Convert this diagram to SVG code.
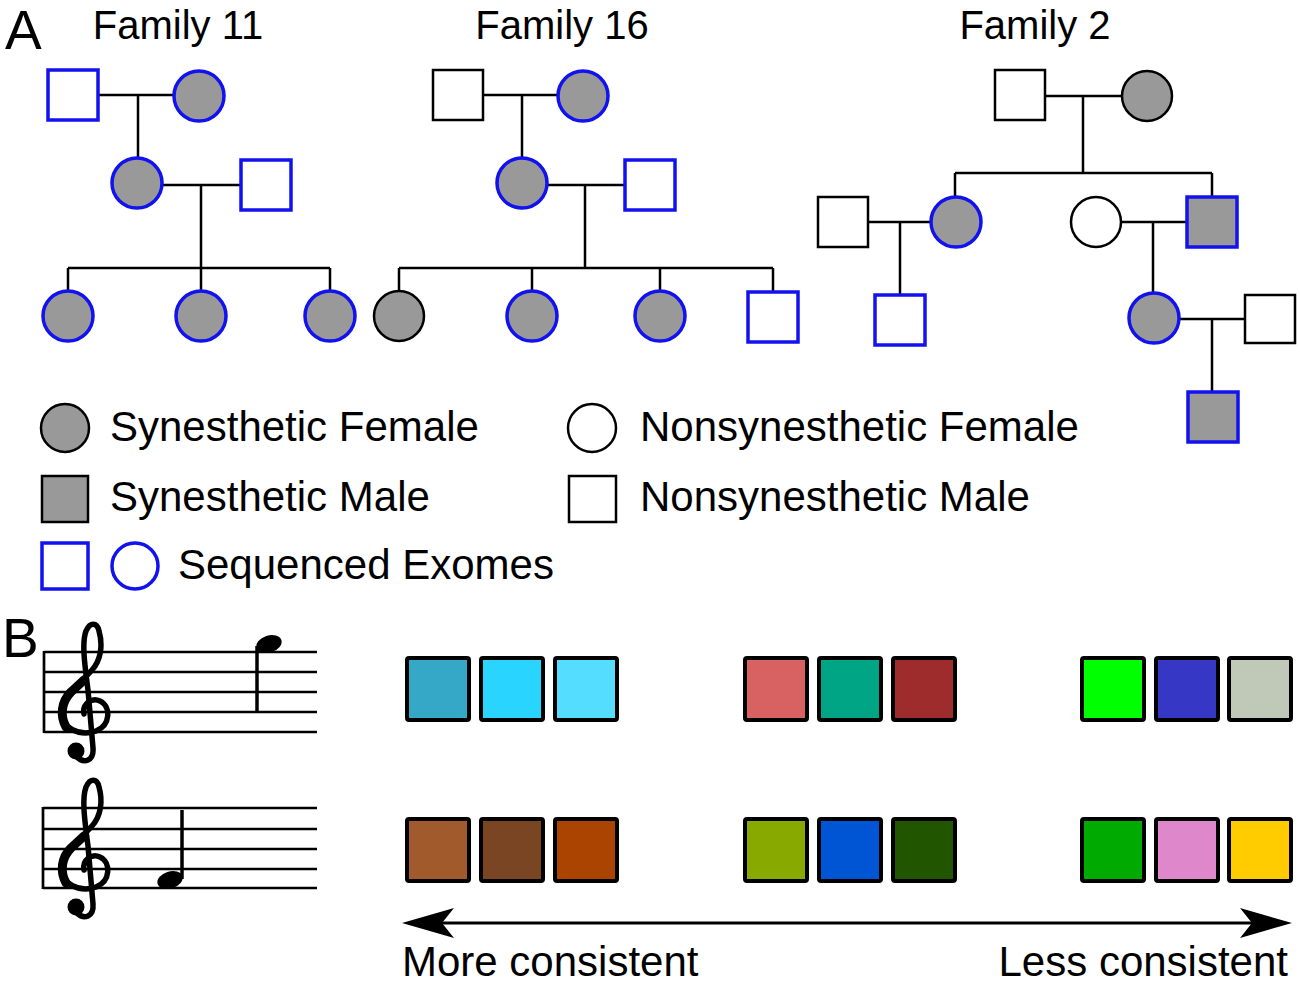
<svg xmlns="http://www.w3.org/2000/svg" width="1300" height="987" viewBox="0 0 1300 987">
<defs>
<style>
text{font-family:"Liberation Sans",Arial,Helvetica,sans-serif;fill:#000}
.t{font-size:40px}
.lg{font-size:42px}
.ax{font-size:42px}
.big{font-size:55px}
.bl{stroke:#1212ee;stroke-width:3.5}
.bk{stroke:#000;stroke-width:2.5}
.aff{fill:#999}
.un{fill:#fff}
.con path{fill:none;stroke:#000;stroke-width:2.5}
.staff path{fill:none;stroke:#000;stroke-width:2.7}
.sw{stroke:#000;stroke-width:4}
.clef{fill:none;stroke:#000;stroke-linecap:round;stroke-linejoin:round}
</style>
<marker id="ah" markerUnits="userSpaceOnUse" markerWidth="52" markerHeight="30" viewBox="0 0 52 30" refX="40" refY="15" orient="auto-start-reverse">
<path d="M0,0 L52,15 L0,30 L12,15 Z" fill="#000"/>
</marker>
<g id="clefShape">
<path class="clef" stroke-width="5.5" d="M84 714 C82 704 92 697 100 701 C111 706 111 725 96 731 C80 737 61 728 61 712 C61 696 80 684 92 670 C101 660 103 645 99 631 C97 622 90 622 86 631 C82 642 84 660 88 690 L93 748 C94 761 84 764 77 757"/>
<path class="clef" stroke-width="9" d="M66 727 C60 716 61 702 71 692 L84 680"/>
<circle cx="76" cy="751" r="8.5" fill="#000"/>
</g>
</defs>
<rect width="1300" height="987" fill="#fff"/>

<text class="big" x="5" y="49">A</text>
<text class="t" x="178" y="39" text-anchor="middle">Family 11</text>
<text class="t" x="562" y="39" text-anchor="middle">Family 16</text>
<text class="t" x="1035" y="39" text-anchor="middle">Family 2</text>

<g id="connectors" class="con">
<path d="M98 95 H174 M138 95 V158 M162 185 H241 M201 185 V268 M68 268 H330 M68 268 V291 M201 268 V291 M330 268 V291"/>
<path d="M483 95 H558 M522 95 V158 M547 185 H625 M585 185 V268 M399 268 H773 M399 268 V291 M532 268 V291 M660 268 V291 M773 268 V292"/>
<path d="M1045 96 H1122 M1083 96 V173 M955 173 H1212 M955 173 V197 M1212 173 V197 M868 222 H931 M900 222 V295 M1121 222 H1187 M1153 222 V293 M1179 319 H1245 M1212 319 V392"/>
</g>

<g id="f11_i1"><rect class="bl un" x="48" y="70" width="50" height="50"/></g>
<g id="f11_i2"><circle class="bl aff" cx="199" cy="96" r="25"/></g>
<g id="f11_ii1"><circle class="bl aff" cx="137" cy="183" r="25"/></g>
<g id="f11_ii2"><rect class="bl un" x="241" y="160" width="50" height="50"/></g>
<g id="f11_iii1"><circle class="bl aff" cx="68" cy="316" r="25"/></g>
<g id="f11_iii2"><circle class="bl aff" cx="201" cy="316" r="25"/></g>
<g id="f11_iii3"><circle class="bl aff" cx="330" cy="316" r="25"/></g>

<g id="f16_i1"><rect class="bk un" x="433" y="70" width="50" height="50"/></g>
<g id="f16_i2"><circle class="bl aff" cx="583" cy="96" r="25"/></g>
<g id="f16_ii1"><circle class="bl aff" cx="522" cy="183" r="25"/></g>
<g id="f16_ii2"><rect class="bl un" x="625" y="160" width="50" height="50"/></g>
<g id="f16_iii1"><circle class="bk aff" cx="399" cy="316" r="25"/></g>
<g id="f16_iii2"><circle class="bl aff" cx="532" cy="316" r="25"/></g>
<g id="f16_iii3"><circle class="bl aff" cx="660" cy="316" r="25"/></g>
<g id="f16_iii4"><rect class="bl un" x="748" y="292" width="50" height="50"/></g>

<g id="f2_i1"><rect class="bk un" x="995" y="70" width="50" height="50"/></g>
<g id="f2_i2"><circle class="bk aff" cx="1147" cy="96" r="25"/></g>
<g id="f2_ii1"><rect class="bk un" x="818" y="197" width="50" height="50"/></g>
<g id="f2_ii2"><circle class="bl aff" cx="956" cy="222" r="25"/></g>
<g id="f2_ii3"><circle class="bk un" cx="1096" cy="222" r="25"/></g>
<g id="f2_ii4"><rect class="bl aff" x="1187" y="197" width="50" height="50"/></g>
<g id="f2_iii1"><rect class="bl un" x="875" y="295" width="50" height="50"/></g>
<g id="f2_iii2"><circle class="bl aff" cx="1154" cy="318" r="25"/></g>
<g id="f2_iii3"><rect class="bk un" x="1245" y="295" width="50" height="48"/></g>
<g id="f2_iv1"><rect class="bl aff" x="1188" y="392" width="50" height="50"/></g>

<g id="legend">
<circle class="bk aff" cx="65" cy="428" r="24"/>
<text class="lg" x="110" y="441">Synesthetic Female</text>
<rect class="bk aff" x="42" y="476" width="46" height="46"/>
<text class="lg" x="110" y="511">Synesthetic Male</text>
<rect class="bl un" x="42" y="543" width="46" height="46"/>
<circle class="bl un" cx="135" cy="566" r="23"/>
<text class="lg" x="178" y="579">Sequenced Exomes</text>
<circle class="bk un" cx="592" cy="428" r="24"/>
<text class="lg" x="640" y="441">Nonsynesthetic Female</text>
<rect class="bk un" x="569" y="476" width="47" height="46"/>
<text class="lg" x="640" y="511">Nonsynesthetic Male</text>
</g>

<text class="big" x="2" y="657">B</text>

<g id="staff1" class="staff">
<path d="M44 652 H317 M44 672 H317 M44 692 H317 M44 712 H317 M44 732 H317 M44 651 V733"/>
<use href="#clefShape"/>
<path d="M257 646 V713" style="stroke-width:3.5"/>
<ellipse cx="269" cy="644" rx="13" ry="8.5" transform="rotate(-18 269 644)" fill="#000"/>
</g>
<g id="staff2" class="staff">
<path d="M43 808 H317 M43 829 H317 M43 849 H317 M43 869 H317 M43 888 H317 M43 807 V889"/>
<use href="#clefShape" transform="translate(0 156)"/>
<path d="M182 810 V879" style="stroke-width:3.5"/>
<ellipse cx="170" cy="880" rx="13" ry="8.5" transform="rotate(-18 170 880)" fill="#000"/>
</g>

<g id="swatches" class="sw">
<rect x="407" y="658" width="62" height="62" rx="2" fill="#35a8c8"/>
<rect x="481" y="658" width="62" height="62" rx="2" fill="#29d4ff"/>
<rect x="555" y="658" width="62" height="62" rx="2" fill="#55ddff"/>
<rect x="745" y="658" width="62" height="62" rx="2" fill="#d86262"/>
<rect x="819" y="658" width="62" height="62" rx="2" fill="#00a585"/>
<rect x="893" y="658" width="62" height="62" rx="2" fill="#9e2c2c"/>
<rect x="1082" y="658" width="62" height="62" rx="2" fill="#00ff00"/>
<rect x="1156" y="658" width="62" height="62" rx="2" fill="#3737c5"/>
<rect x="1229" y="658" width="62" height="62" rx="2" fill="#c0c8b8"/>
<rect x="407" y="819" width="62" height="62" rx="2" fill="#a05a2c"/>
<rect x="481" y="819" width="62" height="62" rx="2" fill="#7a4522"/>
<rect x="555" y="819" width="62" height="62" rx="2" fill="#aa4400"/>
<rect x="745" y="819" width="62" height="62" rx="2" fill="#88aa00"/>
<rect x="819" y="819" width="62" height="62" rx="2" fill="#0055d4"/>
<rect x="893" y="819" width="62" height="62" rx="2" fill="#225500"/>
<rect x="1082" y="819" width="62" height="62" rx="2" fill="#00aa00"/>
<rect x="1156" y="819" width="62" height="62" rx="2" fill="#df87cb"/>
<rect x="1229" y="819" width="62" height="62" rx="2" fill="#ffcc00"/>
</g>

<g id="axis">
<path d="M414 923 H1280" stroke="#000" stroke-width="3" fill="none" marker-start="url(#ah)" marker-end="url(#ah)"/>
<text class="ax" x="402" y="976">More consistent</text>
<text class="ax" x="1288" y="976" text-anchor="end">Less consistent</text>
</g>
</svg>
